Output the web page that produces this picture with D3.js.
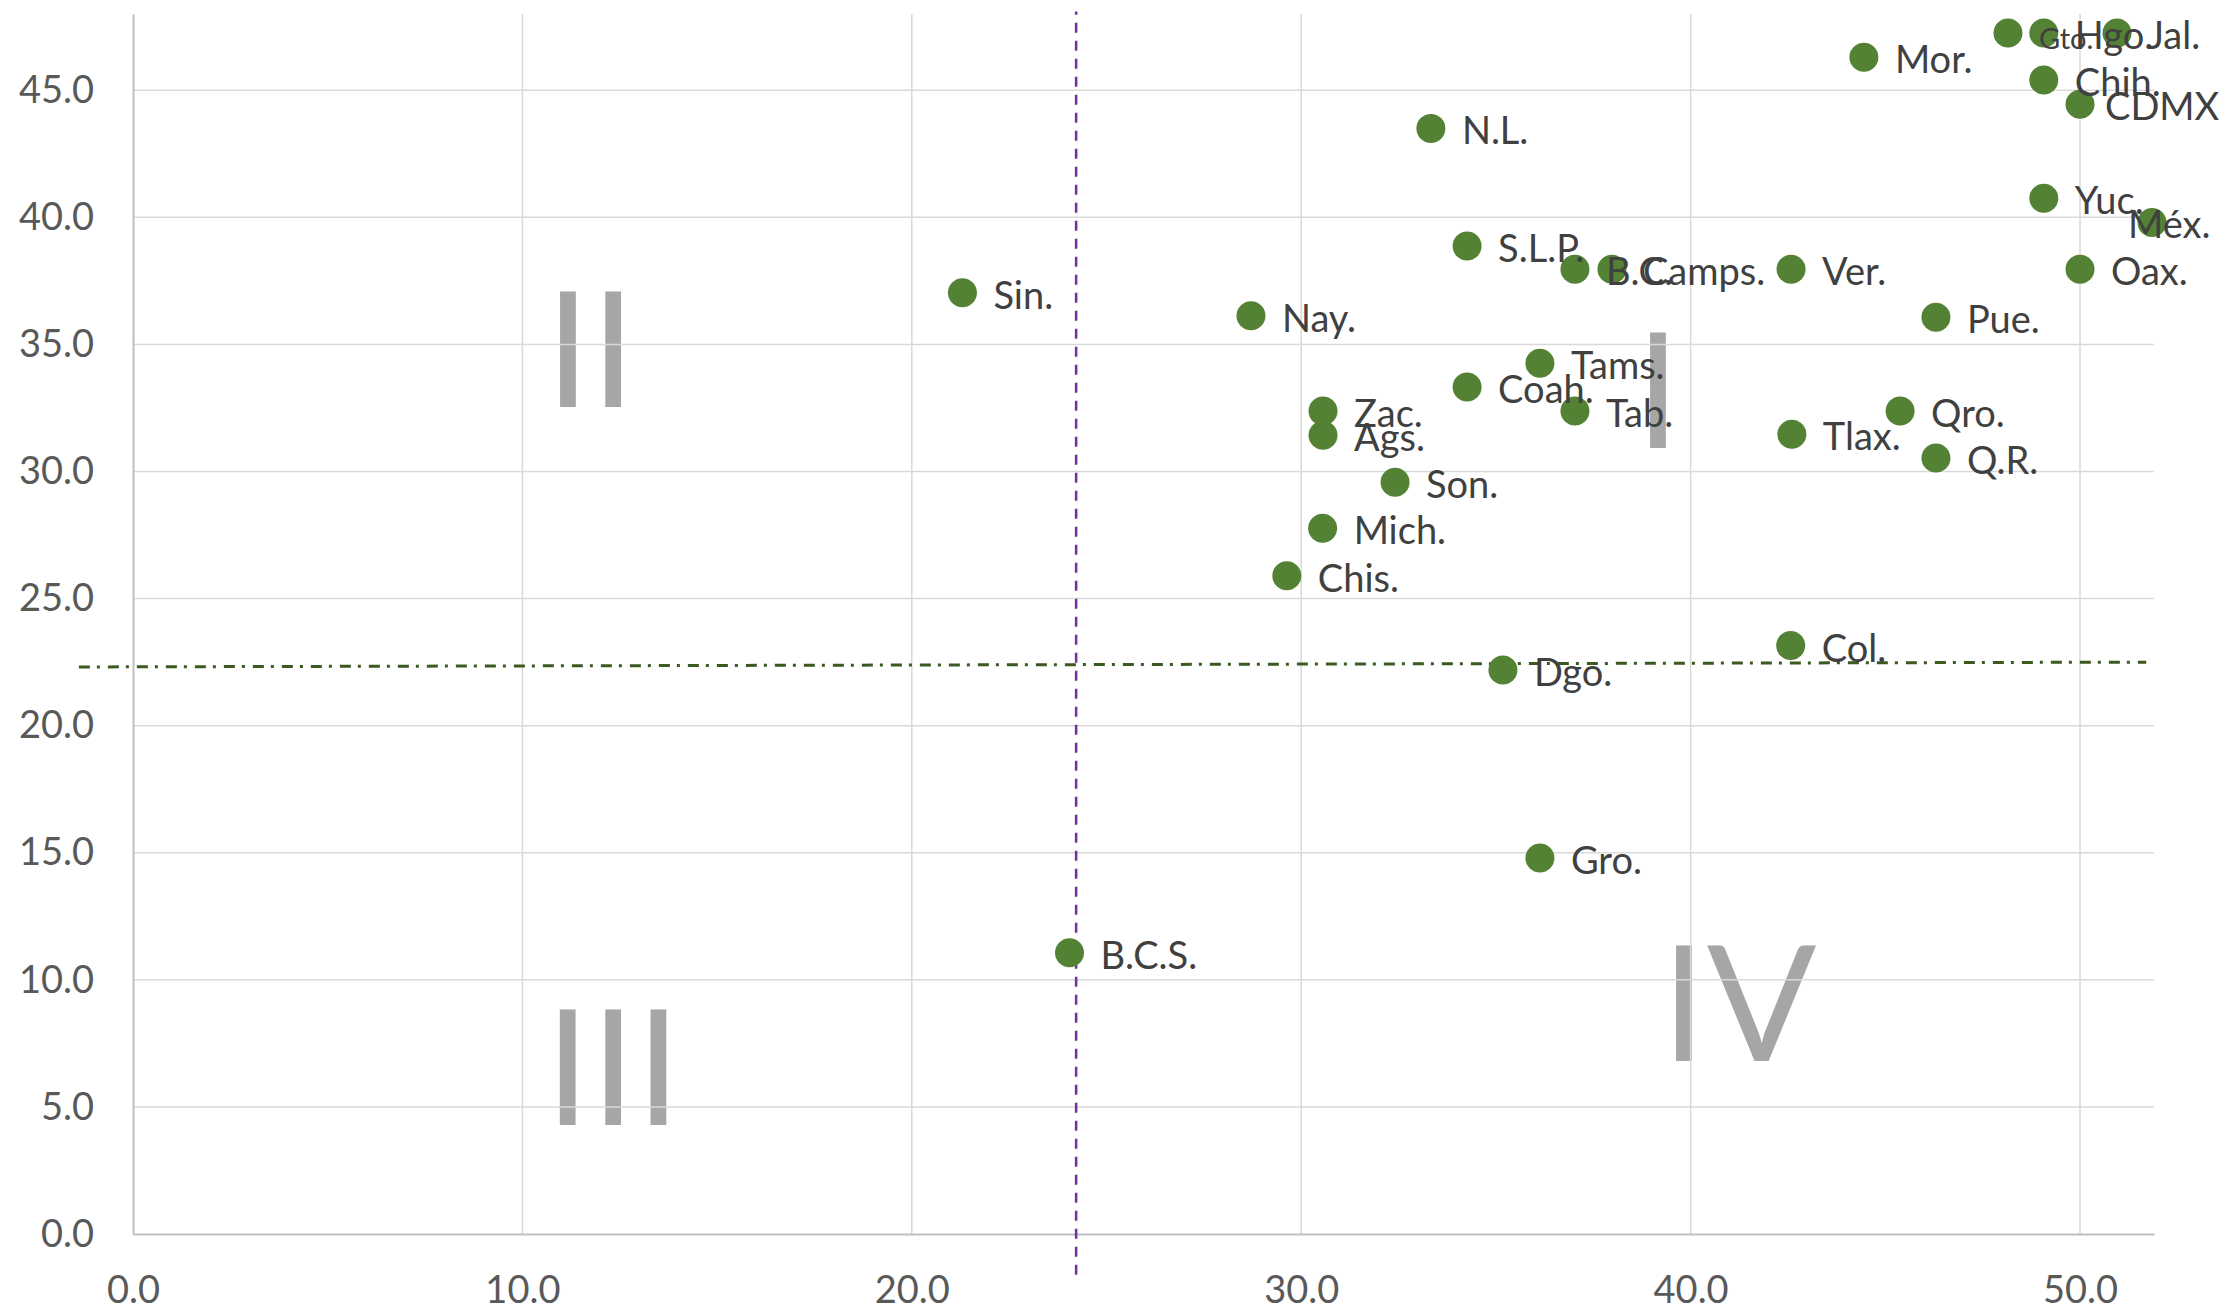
<!DOCTYPE html>
<html>
<head>
<meta charset="utf-8">
<script src="https://cdn.jsdelivr.net/npm/d3@7"></script>
<style>
	body { margin: 0; background: #fff; }
	svg { display: block; font-family: Lato, 'Open Sans', sans-serif; }
</style>
</head>
<body>
<svg id="chart" width="2239" height="1310"></svg>
<script>
// estados y sus coordenadas (eje x, eje y)
const states	= ['Gto.', 'Hgo.', 'Jal.', 'Mor.', 'Chih.', 'CDMX', 'N.L.', 'Yuc.', 'Méx.', 'S.L.P.', 'B.C.', 'Camps.', 'Ver.', 'Oax.', 'Sin.', 'Nay.', 'Pue.', 'Tams.', 'Coah.', 'Zac.', 'Tab.', 'Qro.', 'Ags.', 'Tlax.', 'Q.R.', 'Son.', 'Mich.', 'Chis.', 'Col.', 'Dgo.', 'Gro.', 'B.C.S.'];
const xValues	= [48.15, 49.07, 50.95, 44.45, 49.07, 50.0, 33.33, 49.07, 51.85, 34.26, 37.03, 37.98, 42.58, 50.0, 21.3, 28.71, 46.3, 36.13, 34.26, 30.56, 37.03, 45.38, 30.56, 42.6, 46.3, 32.41, 30.55, 29.63, 42.57, 35.18, 36.13, 24.05];
const yValues	= [47.25, 47.25, 47.25, 46.3, 45.4, 44.45, 43.5, 40.75, 39.8, 38.87, 37.96, 37.96, 37.96, 37.96, 37.03, 36.13, 36.07, 34.26, 33.32, 32.38, 32.38, 32.38, 31.43, 31.47, 30.53, 29.58, 27.77, 25.9, 23.15, 22.19, 14.79, 11.07];

const xTicks	= [0, 10, 20, 30, 40, 50];
const yTicks	= [0, 5, 10, 15, 20, 25, 30, 35, 40, 45];

// lineas de referencia
const vLineX	= [24.22, 24.22];
const vLineY	= [-1.6, 48.1];
const hLineX	= [-1.39, 51.7];
const hLineY	= [22.31, 22.5];

// cuadrantes
const quadNames	= ['I', 'II', 'III', 'IV'];
const quadX		= [39.16, 11.75, 12.33, 41.24];
const quadY		= [30.92, 32.53, 4.29, 6.8];

const labelTweak = { 'Gto.': { size: 29 }, 'Méx.': { dx: -24 }, 'CDMX': { dx: 25 } };

let svg		= d3.select('#chart');
let x		= d3.scaleLinear().domain([0, 51.9]).range([133, 2154]);
let y		= d3.scaleLinear().domain([0, 48]).range([1234, 14]);

// numerales de cuadrante (detras de la rejilla)
svg.append('g').selectAll('text').data(quadNames).join('text')
	.attr('x', (d, i) => x(quadX[i])).attr('y', (d, i) => y(quadY[i]))
	.attr('text-anchor', 'middle').style('font-size', '162px').style('fill', '#a6a6a6')
	.text(d => d);

// rejilla
svg.append('g').selectAll('line').data(xTicks.filter(d => d > 0)).join('line')
	.attr('x1', d => x(d)).attr('x2', d => x(d)).attr('y1', y(48)).attr('y2', y(0))
	.style('stroke', '#d9d9d9').style('stroke-width', 1.5);
svg.append('g').selectAll('line').data(yTicks.filter(d => d > 0)).join('line')
	.attr('x1', x(0)).attr('x2', x(51.9)).attr('y1', d => y(d)).attr('y2', d => y(d))
	.style('stroke', '#d9d9d9').style('stroke-width', 1.5);

// ejes
let xAxis	= svg.append('g').attr('transform', 'translate(0,' + y(0) + ')')
	.call(d3.axisBottom(x).tickValues(xTicks).tickFormat(d3.format('.1f')).tickSize(0).tickPadding(42));
let yAxis	= svg.append('g').attr('transform', 'translate(' + x(0) + ',0)')
	.call(d3.axisLeft(y).tickValues(yTicks).tickFormat(d3.format('.1f')).tickSize(0).tickPadding(39));

[xAxis, yAxis].forEach(a => {
	a.select('.domain').style('stroke', '#bfbfbf').style('stroke-width', 2);
	a.selectAll('text').style('font-family', 'Lato, sans-serif').style('font-size', '38px').style('fill', '#595959');
});

// linea vertical morada y horizontal verde
svg.append('line')
	.attr('x1', x(vLineX[0])).attr('x2', x(vLineX[1])).attr('y1', y(vLineY[0])).attr('y2', y(vLineY[1]))
	.style('stroke', '#7030a0').style('stroke-width', 2.5).style('stroke-dasharray', '10 8');
svg.append('line')
	.attr('x1', x(hLineX[0])).attr('x2', x(hLineX[1])).attr('y1', y(hLineY[0])).attr('y2', y(hLineY[1]))
	.style('stroke', '#3a5a22').style('stroke-width', 3).style('stroke-dasharray', '11 7 3 8');

// puntos
svg.append('g').selectAll('circle').data(states).join('circle')
	.attr('cx', (d, i) => x(xValues[i])).attr('cy', (d, i) => y(yValues[i])).attr('r', 14.5)
	.style('fill', '#548235');

// etiquetas
svg.append('g').selectAll('text').data(states).join('text')
	.attr('x', (d, i) => x(xValues[i]) + ((labelTweak[d] || {}).dx ?? 31))
	.attr('y', (d, i) => y(yValues[i]) + 16)
	.style('font-size', d => ((labelTweak[d] || {}).size || 38) + 'px')
	.style('fill', '#404040')
	.text(d => d);
</script>
</body>
</html>
